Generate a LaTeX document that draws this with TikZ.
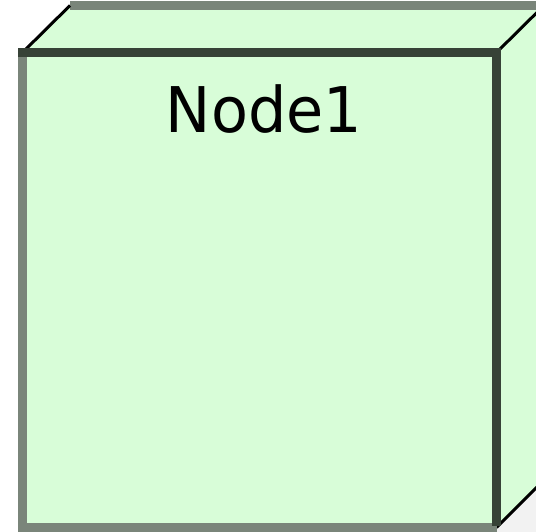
\documentclass[tikz,border=0pt]{standalone}
\usepackage{fontspec}
\setmainfont{DejaVu Sans}
\usepackage{tikz, xcolor}

\definecolor{nodefill}{HTML}{D8FDD8}
\definecolor{edgelight}{HTML}{7A857A}
\definecolor{edgedark}{HTML}{374237}
\definecolor{shadowgray}{HTML}{F2F2F2}

\begin{document}
\begin{tikzpicture}[x=1pt, y=-1pt]
    \useasboundingbox (0, 0) rectangle (536, 532);
    \clip (0, 0) rectangle (536, 532);
    \fill [white] (0, 0) rectangle (536, 532);
    \fill [shadowgray] (497, 527) -- (544, 480) -- (544, 540) -- (497, 540) -- cycle;

    % faces of the box
    \fill [nodefill] (22.5, 52.5) -- (70, 5.5) -- (544, 5.5) -- (544, 480)
      -- (496.5, 527.5) -- (22.5, 527.5) -- cycle;

    % back edges
    \draw [color=edgelight, line width=9pt] (70, 5.5) to (548, 5.5);
    \draw [color=black, line width=3pt] (70, 5.5) to (22.5, 52.5);
    \draw [color=black, line width=3pt] (496.5, 52.5) to (544, 5.5);
    \draw [color=black, line width=3pt] (496.5, 527.5) to (544, 480);

    % front face
    \draw [color=edgelight, line width=9pt] (22.5, 52) to (22.5, 532);
    \draw [color=edgelight, line width=9pt] (22.5, 527.5) to (497, 527.5);
    \draw [color=edgedark, line width=9pt] (18, 52.5) to (501, 52.5);
    \draw [color=edgedark, line width=9pt] (496.5, 52.5) to (496.5, 526);

    \node (node1label) [anchor=base, inner sep=0pt, xscale=0.96] at (264, 133)
      {\fontsize{63}{75}\selectfont Node1};
  \end{tikzpicture}
\end{document}
